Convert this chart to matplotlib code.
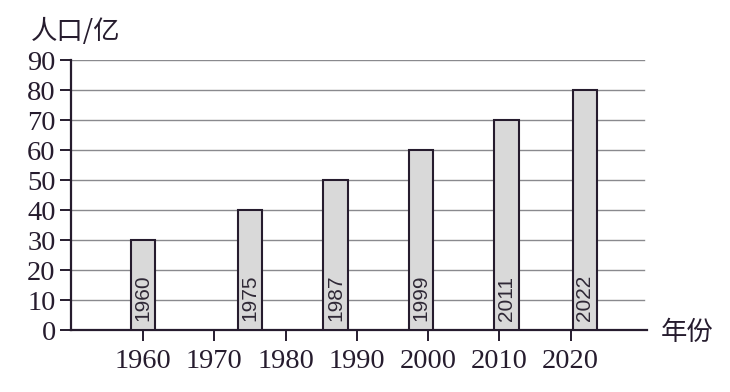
import matplotlib
matplotlib.use("Agg")
import matplotlib.pyplot as plt

# data
bar_years = [1960, 1975, 1987, 1999, 2011, 2022]
population = [30, 40, 50, 60, 70, 80]
bar_labels = ["1960", "1975", "1987", "1999", "2011", "2022"]
xticks = [1960, 1970, 1980, 1990, 2000, 2010, 2020]
yticks = [0, 10, 20, 30, 40, 50, 60, 70, 80, 90]

ink = "#261c2e"
fig = plt.figure(figsize=(7.3, 3.92), dpi=100)
ax = fig.add_axes([71/730, 1-330/392, (647-71)/730, (330-60)/392])
ax.set_xlim(1949.9, 2030.7)
ax.set_ylim(0, 90)

for y in yticks[1:]:
    ax.axhline(y, color="#8a8a8e", lw=1.0, zorder=1, xmax=0.995)

ax.bar(bar_years, population, width=3.4, color="#d9d9d9", edgecolor=ink,
       linewidth=1.5, zorder=3)
for x, lab in zip(bar_years, bar_labels):
    ax.text(x, 3.0, lab, rotation=90, ha="center", va="bottom",
            fontsize=15, family="Liberation Sans", color="#2f2836", zorder=4)

for s in ["top", "right"]:
    ax.spines[s].set_visible(False)
for s in ["left", "bottom"]:
    ax.spines[s].set_color(ink)
    ax.spines[s].set_linewidth(1.6)

ax.set_xticks(xticks)
ax.set_xticklabels([str(v) for v in xticks], family="Liberation Serif",
                   fontsize=20.5, color=ink)
ax.set_yticks(yticks)
ax.set_yticklabels([str(v) for v in yticks], family="Liberation Serif",
                   fontsize=20.5, color=ink)
ax.tick_params(axis="both", direction="out", length=8, width=1.4, color=ink, pad=3)
ax.tick_params(axis="x", pad=6)

fig.text(31/730, 1-31/392, "人口/亿", family=["Noto Sans CJK SC", "DejaVu Sans"],
         fontsize=19, color=ink, va="center", ha="left")
fig.text(661/730, 1-332/392, "年份", family=["Noto Sans CJK SC", "DejaVu Sans"],
         fontsize=19, color=ink, va="center", ha="left")

fig.savefig("out.png", dpi=100, facecolor="white")
